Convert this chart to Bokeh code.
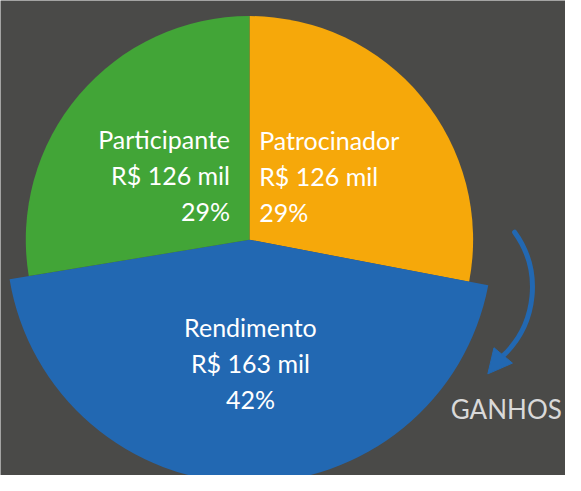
import math
from bokeh.plotting import figure
from bokeh.models import Range1d, Arrow, NormalHead, ColumnDataSource
from bokeh.core.properties import value
from bokeh.embed import file_html
from bokeh.resources import INLINE

# ---- data ----
categories = ["Patrocinador", "Rendimento", "Participante"]
amounts = [126, 163, 126]          # R$ mil
pct_labels = [29, 42, 29]          # printed percentages
shares = [28.0, 44.4, 27.6]        # angular share of each wedge as drawn (%)
side_label = "GANHOS"

# ---- styles ----
colors = ["#f6a80a", "#2268b2", "#42a537"]
radii = [230, 250, 230]
BG = "#4a4a48"
FONT = "Lato"

W, H = 565, 475
sx = W / 581.0
p = figure(width=W, height=H, x_range=Range1d(0, 581), y_range=Range1d(491 - H / sx, 491),
           output_backend="svg", toolbar_location=None, min_border=0)
p.axis.visible = False
p.grid.visible = False
p.background_fill_color = BG
p.border_fill_color = BG
p.outline_line_color = None

cx, cy = 256, 245
starts, ends = [], []
a = math.pi / 2
for s in shares:
    e = a - s / 100.0 * 2 * math.pi
    starts.append(e)
    ends.append(a)
    a = e

src = ColumnDataSource(dict(x=[cx] * 3, y=[cy] * 3, r=radii, s=starts, e=ends, c=colors))
p.wedge(x="x", y="y", radius="r", start_angle="s", end_angle="e", direction="anticlock",
        fill_color="c", line_color=None, source=src)

# label layout: (x offset, first baseline offset, align)
layout = {
    "Patrocinador": (10, 103, "left"),
    "Rendimento": (1, -90, "center"),
    "Participante": (-20, 104, "right"),
}
step = 37
for name, amt, pct in zip(categories, amounts, pct_labels):
    dx, dy, align = layout[name]
    lines = [name, f"R$ {amt} mil", f"{pct}%"]
    for i, t in enumerate(lines):
        p.text(x=[cx + dx], y=[cy + dy - i * step], text=[t], text_align=align,
               text_baseline="alphabetic", text_font=value(FONT), text_font_size="25px",
               text_color="#ffffff")

# curved arrow
blue = colors[1]
acx, acy, ar = 450, 196, 97
p.arc(x=[acx], y=[acy], radius=ar, start_angle=math.radians(35.8), end_angle=math.radians(-47),
      direction="clock", line_width=5, line_color=blue, line_cap="round")
ex = acx + ar * math.cos(math.radians(-47))
ey = acy + ar * math.sin(math.radians(-47))
p.add_layout(Arrow(end=NormalHead(size=24, fill_color=blue, line_color=blue, line_width=1),
                   x_start=ex, y_start=ey, x_end=ex - 15, y_end=ey - 18,
                   line_color=blue, line_alpha=0, line_width=1))

p.text(x=[463], y=[71], text=[side_label], text_align="left", text_baseline="alphabetic",
       text_font=value(FONT), text_font_size="26px", text_color="#d9d9d9")

open("out.html", "w").write(file_html(p, INLINE))
